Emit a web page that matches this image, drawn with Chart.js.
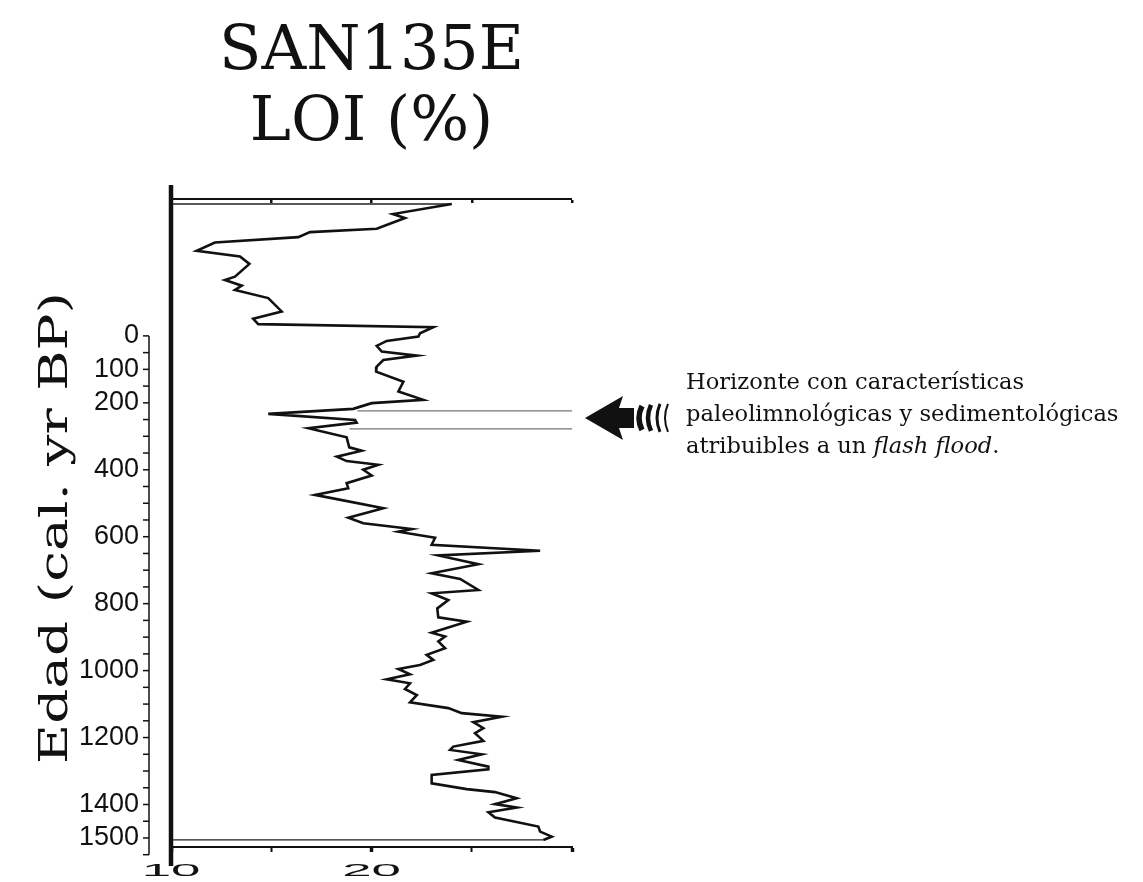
<!DOCTYPE html>
<html>
<head>
<meta charset="utf-8">
<script src="https://cdn.jsdelivr.net/npm/chart.js@4/dist/chart.umd.min.js"></script>
<style>
  html, body { margin: 0; padding: 0; background: #fff; }
  #wrap { width: 1143px; height: 882px; position: relative; }
</style>
</head>
<body>
<div id="wrap"><canvas id="loi"></canvas></div>
<script>
/* ---------- data ---------- */
const ageBP = [
  -394, -364, -352, -320, -310, -295, -279, -254, -237, -215,
  -177, -167, -150, -137, -113, -73, -51, -35, -26, -8,
  2, 15, 30, 47, 59, 72, 92, 107, 137, 166,
  191, 201, 218, 233, 251, 259, 276, 303, 333, 343,
  361, 374, 385, 400, 417, 440, 455, 475, 515, 543,
  560, 577, 585, 603, 624, 642, 656, 682, 709, 726,
  759, 769, 789, 814, 841, 854, 887, 898, 913, 933,
  953, 968, 983, 995, 1011, 1026, 1038, 1055, 1073, 1095,
  1112, 1127, 1138, 1154, 1172, 1187, 1210, 1227, 1237, 1250,
  1267, 1287, 1295, 1312, 1337, 1354, 1363, 1381, 1399, 1409,
  1423, 1439, 1466, 1481, 1496, 1506
];
const loiPct = [
  24.0, 21.07, 21.67, 20.26, 16.93, 16.35, 12.19, 11.28, 13.44, 13.91,
  13.19, 12.69, 13.53, 13.19, 14.85, 15.52, 14.10, 14.35, 23.08, 22.42,
  22.34, 20.76, 20.26, 20.51, 22.26, 20.59, 20.26, 20.23, 21.59, 21.34,
  22.58, 20.01, 19.09, 14.85, 19.18, 19.26, 16.85, 18.76, 18.89, 19.51,
  18.27, 18.76, 20.34, 19.59, 20.01, 18.76, 18.84, 17.18, 20.59, 18.84,
  19.59, 22.01, 21.34, 23.17, 23.00, 28.41, 23.33, 25.33, 23.00, 24.42,
  25.33, 23.00, 23.83, 23.28, 23.33, 24.75, 23.00, 23.67, 23.33, 23.67,
  22.75, 23.08, 22.42, 21.34, 21.92, 20.76, 21.92, 21.67, 22.26, 21.92,
  23.83, 24.50, 26.49, 25.08, 25.58, 25.16, 25.58, 24.08, 23.92, 25.50,
  24.33, 25.83, 25.83, 23.00, 23.00, 24.75, 26.16, 27.24, 26.16, 27.24,
  25.83, 26.16, 28.32, 28.41, 28.99, 28.57
];

// flash flood horizon (two thin lines)
const flashFloodAges = [224, 278];
const flashFloodLoi  = [19.3, 18.9];

// axes
const loiMin = 10, loiMax = 30, loiStep = 5;
const loiTickLabels = [10, 20];
const ageMin = -409, ageMax = 1527;
const ageTickLabels = [0, 100, 200, 400, 600, 800, 1000, 1200, 1400, 1500];
const ageTickStep = 50, ageAxisEnd = 1550;

const titleLines = ['SAN135E', 'LOI (%)'];
const ageTitle = 'Edad (cal. yr BP)';
const noteLines = ['Horizonte con características', 'paleolimnológicas y sedimentológicas'];
const noteLast = ['atribuibles a un ', 'flash flood', '.'];

/* ---------- datasets ---------- */
const pts = ageBP.map((a, i) => ({x: loiPct[i], y: a}));
const last = ageBP.length - 1;

const datasets = [
  {data: pts, borderColor: '#111', borderWidth: 2.6, borderJoinStyle: 'miter'},
  {data: [{x: loiMin, y: ageBP[0]}, {x: loiPct[0], y: ageBP[0]}], borderColor: '#222', borderWidth: 1.3},
  {data: [{x: loiMin, y: ageBP[last]}, {x: loiPct[last], y: ageBP[last]}], borderColor: '#222', borderWidth: 1.3},
  ...flashFloodAges.map((a, i) => ({
    data: [{x: flashFloodLoi[i], y: a}, {x: loiMax, y: a}], borderColor: '#777', borderWidth: 1.3
  })),
].map(d => Object.assign({showLine: true, pointRadius: 0, tension: 0, fill: false}, d));

/* ---------- extras: offset age axis, core line, labels, arrow, note ---------- */
const decor = {
  id: 'decor',
  afterDraw(chart) {
    const {ctx, chartArea: a, scales: {x, y}} = chart;
    const seg = (x1, y1, x2, y2) => { ctx.beginPath(); ctx.moveTo(x1, y1); ctx.lineTo(x2, y2); ctx.stroke(); };
    ctx.save();
    ctx.strokeStyle = '#111';
    ctx.fillStyle = '#111';

    // thick line at LOI = 10
    const x10 = x.getPixelForValue(loiMin);
    ctx.lineWidth = 4.5;
    seg(x10, a.top - 14, x10, a.bottom + 19);

    // age axis, set off to the left
    const ax = a.left - 22;
    ctx.lineWidth = 1.5;
    seg(ax, y.getPixelForValue(0), ax, y.getPixelForValue(ageAxisEnd));
    for (let v = 0; v <= ageAxisEnd; v += ageTickStep) {
      const py = y.getPixelForValue(v);
      seg(ax - 6, py, ax, py);
    }

    // stretched LOI tick labels
    ctx.font = '16px "Liberation Sans"';
    ctx.textAlign = 'center';
    ctx.textBaseline = 'middle';
    loiTickLabels.forEach(v => {
      ctx.save();
      ctx.translate(x.getPixelForValue(v), a.bottom + 25);
      ctx.scale(3.3, 1);
      ctx.fillText(String(v), 0, 0);
      ctx.restore();
    });

    // age axis title, rotated and stretched
    ctx.save();
    ctx.font = '40px "DejaVu Serif"';
    const tw = ctx.measureText(ageTitle).width;
    ctx.translate(a.left - 114, (a.top + a.bottom) / 2 + 5);
    ctx.rotate(-Math.PI / 2);
    ctx.scale(472 / tw, 1);
    ctx.fillText(ageTitle, 0, 0);
    ctx.restore();

    // arrow pointing at the horizon
    const cy = (y.getPixelForValue(flashFloodAges[0]) + y.getPixelForValue(flashFloodAges[1])) / 2 - 2;
    const tx = a.right + 13;
    ctx.beginPath();
    ctx.moveTo(tx, cy);
    ctx.lineTo(tx + 38, cy - 22);
    ctx.lineTo(tx + 34, cy - 10);
    ctx.lineTo(tx + 49, cy - 10);
    ctx.lineTo(tx + 49, cy + 10);
    ctx.lineTo(tx + 34, cy + 10);
    ctx.lineTo(tx + 38, cy + 22);
    ctx.closePath();
    ctx.fill();
    [[54, 5.5, 12], [63, 4.5, 13], [72, 3, 14], [80, 2, 14]].forEach(([dx, w, h]) => {
      ctx.lineWidth = w;
      ctx.beginPath();
      ctx.moveTo(tx + dx + 3, cy - h);
      ctx.quadraticCurveTo(tx + dx - 3, cy, tx + dx + 3, cy + h);
      ctx.stroke();
    });

    // note text
    const nx = a.right + 114;
    const ty = cy - 3;
    ctx.textAlign = 'left';
    ctx.font = '22.6px "DejaVu Serif"';
    noteLines.forEach((t, i) => ctx.fillText(t, nx, ty - 32 + i * 32));
    let px = nx;
    noteLast.forEach((t, i) => {
      ctx.font = (i === 1 ? 'italic ' : '') + '22.6px "DejaVu Serif"';
      ctx.fillText(t, px, ty + 32);
      px += ctx.measureText(t).width;
    });
    ctx.restore();
  }
};

/* ---------- chart ---------- */
new Chart(document.getElementById('loi'), {
  type: 'scatter',
  data: {datasets},
  plugins: [decor],
  options: {
    responsive: true,
    maintainAspectRatio: false,
    animation: false,
    events: [],
    layout: {padding: {left: 71, right: 571, top: 0, bottom: 0}},
    plugins: {
      legend: {display: false},
      tooltip: {enabled: false},
      title: {
        display: true,
        text: titleLines,
        fullSize: false,
        color: '#111',
        font: {family: '"DejaVu Serif"', size: 62, weight: 'normal', lineHeight: 1.145},
        padding: {top: 17, bottom: 30},
      },
    },
    scales: {
      x: {
        type: 'linear', position: 'bottom', min: loiMin, max: loiMax,
        ticks: {stepSize: loiStep, display: false},
        grid: {drawOnChartArea: false, tickLength: 5, tickColor: '#111',
               tickWidth: c => (c.tick && c.tick.value % 10 === 0 ? 3.5 : 2)},
        border: {color: '#111', width: 2},
        afterFit: s => { s.height = 35; },
      },
      x2: {
        type: 'linear', position: 'top', min: loiMin, max: loiMax,
        ticks: {stepSize: loiStep, display: false},
        grid: {drawTicks: false, color: '#111', lineWidth: c => (c.tick && c.tick.value === loiMin ? 0 : 2.5)},
        border: {color: '#111', width: 2, dash: [3, 3000]},
        afterFit: s => { s.height = 10; },
      },
      y: {
        type: 'linear', position: 'left', reverse: true, min: ageMin, max: ageMax,
        afterBuildTicks: s => { s.ticks = ageTickLabels.map(v => ({value: v})); },
        ticks: {padding: 32, color: '#111', font: {family: '"Liberation Sans"', size: 27},
                autoSkip: false, callback: v => String(v)},
        grid: {display: false, drawTicks: false},
        border: {display: false},
        afterFit: s => { s.width = 100; s.paddingTop = 0; s.paddingBottom = 0; },
      },
    },
  },
});
</script>
</body>
</html>
